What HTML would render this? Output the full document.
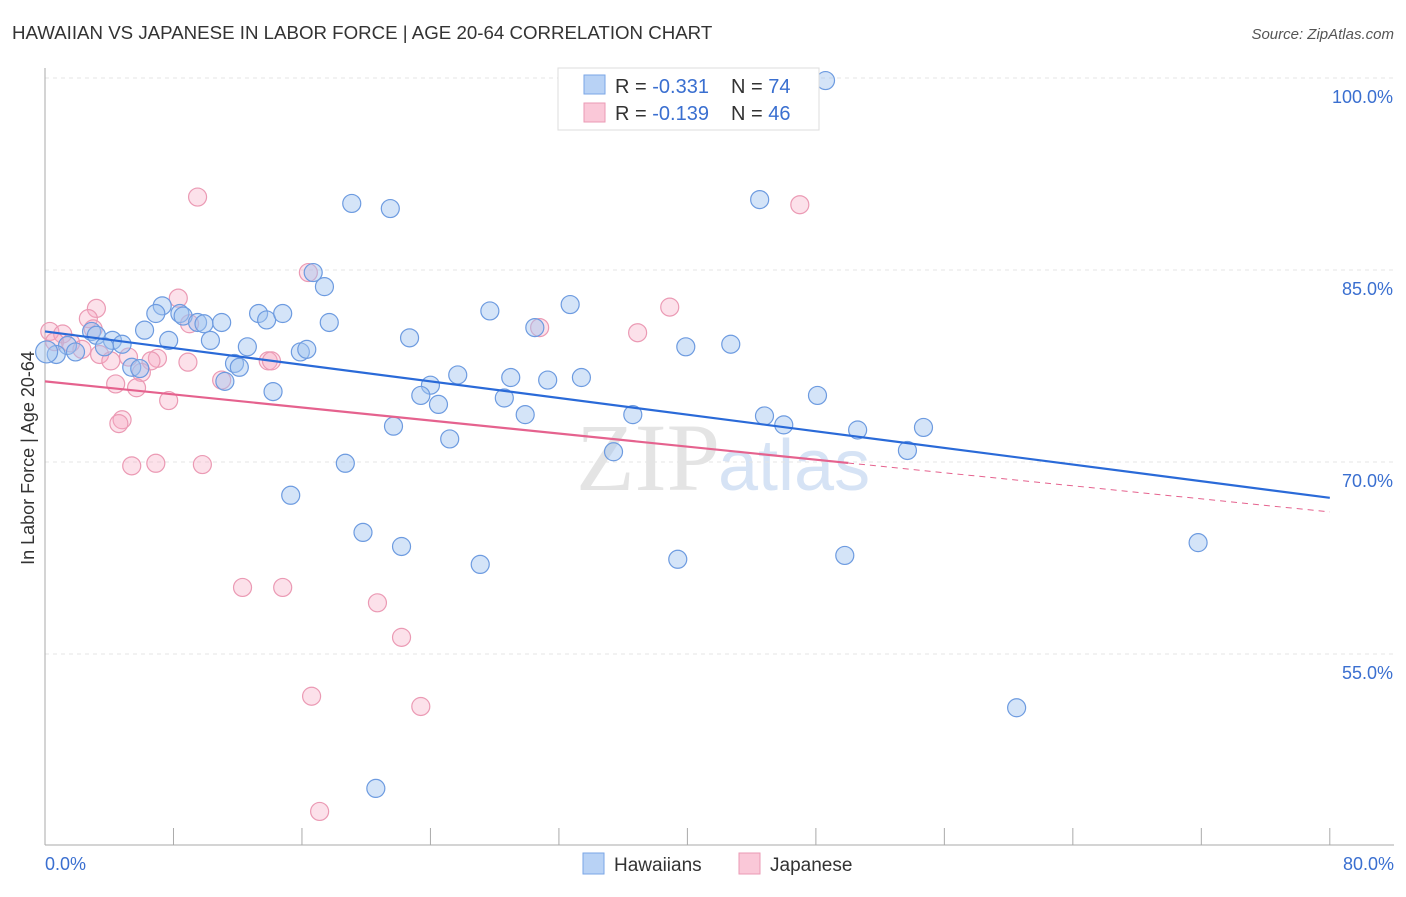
<!DOCTYPE html>
<html><head><meta charset="utf-8"><style>
body{margin:0;background:#fff;font-family:"Liberation Sans",sans-serif}
</style></head><body>
<svg width="1406" height="892" xmlns="http://www.w3.org/2000/svg" font-family="Liberation Sans, sans-serif">
<text x="12" y="39" font-size="18.7" fill="#333">HAWAIIAN VS JAPANESE IN LABOR FORCE | AGE 20-64 CORRELATION CHART</text>
<text x="1394" y="39" font-size="15" fill="#555" font-style="italic" text-anchor="end">Source: ZipAtlas.com</text>
<text x="720" y="490" font-size="96" fill="#e4e4e4" text-anchor="end" font-family="Liberation Serif, serif">ZIP</text>
<text x="718" y="490" font-size="72" fill="#d6e3f5">atlas</text>
<g id="grid"></g>
<g id="pts"></g>
<g id="lines"></g>
<text x="34" y="458" font-size="18" fill="#333" text-anchor="middle" transform="rotate(-90 34 458)">In Labor Force | Age 20-64</text>
<g>
<rect x="558" y="68" width="261" height="62" fill="#fff" stroke="#ddd"/>
<rect x="584" y="75" width="21" height="19" fill="#b8d2f5" stroke="#7aa6e6"/>
<rect x="584" y="103" width="21" height="19" fill="#fac8d8" stroke="#eb9ab4"/>
<text x="615" y="93" font-size="20" fill="#333">R = <tspan fill="#3a6fd0">-0.331</tspan></text>
<text x="731" y="93" font-size="20" fill="#333">N = <tspan fill="#3a6fd0">74</tspan></text>
<text x="615" y="120" font-size="20" fill="#333">R = <tspan fill="#3a6fd0">-0.139</tspan></text>
<text x="731" y="120" font-size="20" fill="#333">N = <tspan fill="#3a6fd0">46</tspan></text>
</g>
<g>
<rect x="583" y="853" width="21" height="21" fill="#b8d2f5" stroke="#7aa6e6"/>
<text x="614" y="871" font-size="19" fill="#333">Hawaiians</text>
<rect x="739" y="853" width="21" height="21" fill="#fac8d8" stroke="#eb9ab4"/>
<text x="770" y="871" font-size="19" fill="#333">Japanese</text>
</g>
</svg>
<script>
const yTicks=[100,85,70,55];
const yTickLabels=["100.0%","85.0%","70.0%","55.0%"];
const xTickLabels=["0.0%","80.0%"];
const hawX=[48.6,19.1,21.5,44.5,16.7,17.4,7.3,6.9,8.4,8.6,9.5,9.9,11.0,13.3,13.8,14.8,17.7,27.7,32.7,6.2,7.7,10.3,22.7,30.5,39.9,42.7,2.9,3.2,4.2,4.8,3.7,1.4,1.9,0.7,0.1,12.6,15.9,16.3,11.8,12.1,5.4,5.9,11.2,14.2,24.0,25.7,29.0,31.3,33.4,23.4,24.5,28.6,29.9,36.6,44.8,46.0,48.1,50.6,54.7,53.7,21.7,25.2,35.4,18.7,15.3,19.8,22.2,27.1,39.4,49.8,71.8,60.5,20.6];
const hawY=[99.8,90.2,89.8,90.5,84.8,83.7,82.2,81.6,81.6,81.4,80.9,80.8,80.9,81.6,81.1,81.6,80.9,81.8,82.3,80.3,79.5,79.5,79.7,80.5,79.0,79.2,80.2,79.9,79.5,79.2,79.0,79.1,78.6,78.4,78.6,79.0,78.6,78.8,77.7,77.4,77.4,77.3,76.3,75.5,76.0,76.8,76.6,76.4,76.6,75.2,74.5,75.0,73.7,73.7,73.6,72.9,75.2,72.5,72.7,70.9,72.8,71.8,70.8,69.9,67.4,64.5,63.4,62.0,62.4,62.7,63.7,50.8,44.5];
const japX=[9.5,47.0,16.4,8.3,3.2,2.7,3.0,9.0,38.9,36.9,30.8,0.3,1.1,0.6,1.6,2.3,3.4,4.1,5.2,7.0,6.6,8.9,13.9,14.1,6.0,11.0,4.4,5.7,7.7,4.8,4.6,5.4,6.9,9.8,12.3,14.8,20.7,22.2,16.6,23.4,17.1];
const japY=[90.7,90.1,84.8,82.8,82.0,81.2,80.4,80.8,82.1,80.1,80.5,80.2,80.0,79.4,79.3,78.8,78.4,77.9,78.2,78.1,77.9,77.8,77.9,77.9,77.0,76.4,76.1,75.8,74.8,73.3,73.0,69.7,69.9,69.8,60.2,60.2,59.0,56.3,51.7,50.9,42.7];
const hawTrend=[80.2,67.2];
const japTrend=[76.3,66.1];
const japSolidEnd=50;
const sx=v=>45+v*16.06, sy=v=>78+(100-v)*12.8;
const NS="http://www.w3.org/2000/svg";
function mk(t,a,p){const e=document.createElementNS(NS,t);for(const k in a)e.setAttribute(k,a[k]);p.appendChild(e);return e;}
const grid=document.getElementById('grid');
yTicks.forEach((t,i)=>{
 const l=mk('line',{x1:45,x2:1394,y1:sy(t),y2:sy(t),stroke:'#e4e4e4','stroke-dasharray':'4,4'},grid);
 
 
 const tx=mk('text',{x:1393,y:sy(t)+25,'font-size':18,fill:'#3a6fd0','text-anchor':'end'},grid);
 tx.textContent=yTickLabels[i];
 
 
});
let a=mk('line',{x1:45,x2:45,y1:68,y2:845,stroke:'#aaa'},grid);


a=mk('line',{x1:45,x2:1394,y1:845,y2:845,stroke:'#aaa'},grid);


for(let v=0;v<=80;v+=8){const t=mk('line',{x1:sx(v),x2:sx(v),y1:828,y2:845,stroke:'#aaa'},grid);
 
 }
[[0,'start',45],[80,'end',1394]].forEach((d,i)=>{const t=mk('text',{x:d[2],y:870,'font-size':18,fill:'#3a6fd0','text-anchor':d[1]},grid);t.textContent=xTickLabels[i];
 
 });
const pts=document.getElementById('pts');
japX.forEach((x,i)=>{const c=mk('circle',{cx:sx(x),cy:sy(japY[i]),r:9,fill:'rgba(246,170,196,0.35)',stroke:'#eb9ab4','stroke-width':1.2},pts);
 
 });
hawX.forEach((x,i)=>{const c=mk('circle',{cx:sx(x),cy:sy(hawY[i]),r:i==34?11:9,fill:'rgba(160,196,240,0.45)',stroke:'#6d9be0','stroke-width':1.2},pts);
 
 });
const ln=document.getElementById('lines');
let L=mk('line',{x1:sx(0),y1:sy(hawTrend[0]),x2:sx(80),y2:sy(hawTrend[1]),stroke:'#2a6ad8','stroke-width':2.2},ln);


const jy=x=>japTrend[0]+(japTrend[1]-japTrend[0])*x/80;
L=mk('line',{x1:sx(0),y1:sy(jy(0)),x2:sx(japSolidEnd),y2:sy(jy(japSolidEnd)),stroke:'#e5628e','stroke-width':2.2},ln);


L=mk('line',{x1:sx(japSolidEnd),y1:sy(jy(japSolidEnd)),x2:sx(80),y2:sy(jy(80)),stroke:'#e5628e','stroke-width':1,'stroke-dasharray':'6,5'},ln);


</script>
</body></html>
